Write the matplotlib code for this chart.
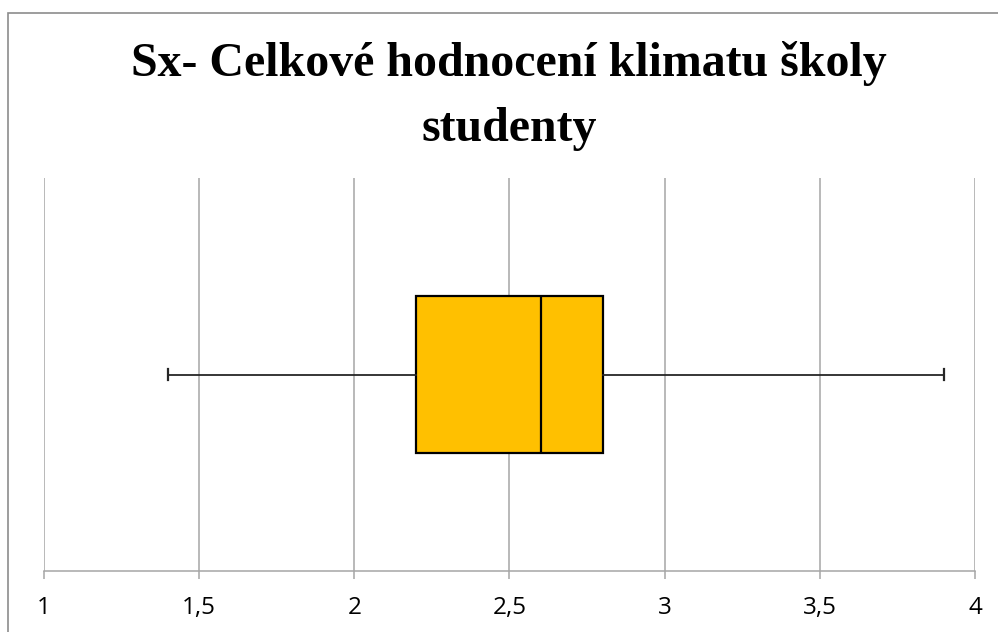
import matplotlib
matplotlib.use("Agg")
import matplotlib.pyplot as plt
from matplotlib.patches import Rectangle

title_lines = ["Sx- Celkové hodnocení klimatu školy", "studenty"]
whisker_low = 1.4
q1 = 2.2
median = 2.6
q3 = 2.8
whisker_high = 3.9
tick_values = [1, 1.5, 2, 2.5, 3, 3.5, 4]
tick_labels = ["1", "1,5", "2", "2,5", "3", "3,5", "4"]

W, H = 998, 632
fig = plt.figure(figsize=(W / 100, H / 100), dpi=100)
fig.patch.set_facecolor("white")

# outer chart border (only top/left visible in reference)
fig.patches.append(Rectangle((8 / W, -0.1), 1.2, 1 - 13 / H + 0.1,
                             transform=fig.transFigure, fill=False,
                             edgecolor="#8c8c8c", linewidth=1.2))

ax = fig.add_axes([44 / W, 1 - 571 / H, (975 - 44) / W, (571 - 178) / H])
stats = [dict(whislo=whisker_low, q1=q1, med=median, q3=q3, whishi=whisker_high, fliers=[])]
ax.bxp(stats, positions=[0.5], widths=0.402, vert=False, patch_artist=True,
       showfliers=False,
       boxprops=dict(facecolor="#FFC000", edgecolor="black", linewidth=1.6),
       medianprops=dict(color="black", linewidth=1.6),
       whiskerprops=dict(color="#262626", linewidth=1.3),
       capprops=dict(color="#262626", linewidth=1.6),
       capwidths=0.028, zorder=3)

ax.set_xlim(1, 4)
ax.set_ylim(0, 1)
ax.set_xticks(tick_values)
ax.set_xticklabels(tick_labels, fontfamily="Open Sans", fontsize=17.5)
ax.set_yticks([])
ax.grid(axis="x", color="#a6a6a6", linewidth=1.1, zorder=0)
ax.set_axisbelow(True)
for s in ["top", "left", "right"]:
    ax.spines[s].set_visible(False)
ax.spines["bottom"].set_color("#a6a6a6")
ax.spines["bottom"].set_linewidth(1.1)
ax.tick_params(axis="x", length=6, width=1.1, color="#a6a6a6", pad=12, labelcolor="black")

fig.text(509 / W, 1 - 63 / H, title_lines[0], ha="center", va="center",
         fontfamily="Liberation Serif", fontweight="bold", fontsize=34.5)
fig.text(509 / W, 1 - 129 / H, title_lines[1], ha="center", va="center",
         fontfamily="Liberation Serif", fontweight="bold", fontsize=34.5)

fig.savefig("out.png", dpi=100)
